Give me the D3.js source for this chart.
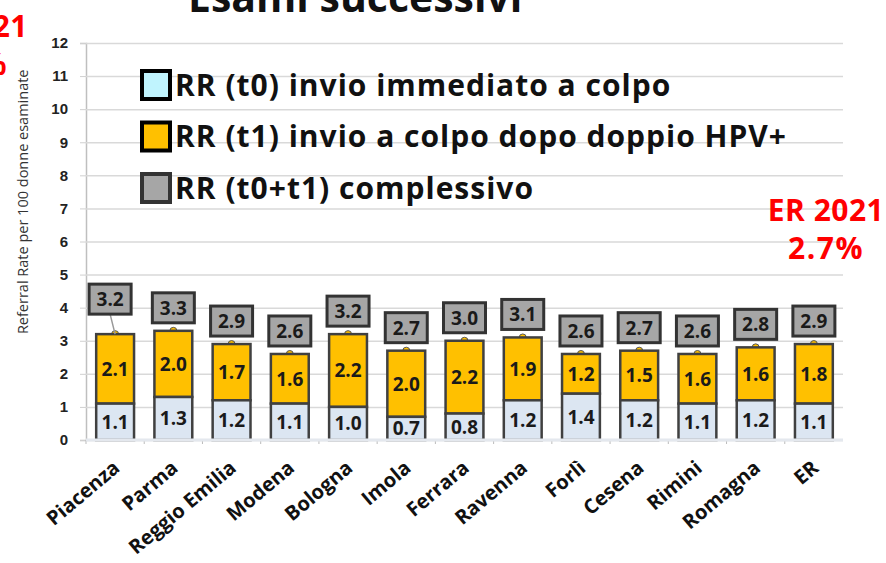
<!DOCTYPE html>
<html>
<head>
<meta charset="utf-8">
<script src="https://cdn.jsdelivr.net/npm/d3@7"></script>
<style>
  body { margin: 0; background: #fff; }
  svg { display: block; font-family: "Open Sans", "Noto Sans", sans-serif; }
</style>
</head>
<body>
<div id="wrapper"></div>
<script>
// data
const areas = ["Piacenza", "Parma", "Reggio Emilia", "Modena", "Bologna", "Imola", "Ferrara",
  "Ravenna", "Forlì", "Cesena", "Rimini", "Romagna", "ER"]
const rrT0 = [1.1, 1.3, 1.2, 1.1, 1.0, 0.7, 0.8, 1.2, 1.4, 1.2, 1.1, 1.2, 1.1]
const rrT1 = [2.1, 2.0, 1.7, 1.6, 2.2, 2.0, 2.2, 1.9, 1.2, 1.5, 1.6, 1.6, 1.8]
const rrTot = [3.2, 3.3, 2.9, 2.6, 3.2, 2.7, 3.0, 3.1, 2.6, 2.7, 2.6, 2.8, 2.9]
const yTicks = [0, 1, 2, 3, 4, 5, 6, 7, 8, 9, 10, 11, 12]
const legendLabels = [
  "RR (t0) invio immediato a colpo",
  "RR (t1) invio a colpo dopo doppio HPV+",
  "RR (t0+t1) complessivo",
]

const dataset = areas.map((a, i) => ({ area: a, t0: rrT0[i], t1: rrT1[i], tot: rrTot[i] }))

const dimensions = { width: 886, height: 563 }
const colT0 = "#dce6f2"
const colT1 = "#ffc000"
const colBox = "#a6a6a6"

const svg = d3.select("#wrapper").append("svg")
  .attr("width", dimensions.width)
  .attr("height", dimensions.height)

// scales
const xScale = d3.scaleBand()
  .domain(areas)
  .range([86, 843])
  .paddingInner(0.35)
  .paddingOuter(0.175)
const yScale = d3.scaleLinear()
  .domain([0, 12])
  .range([440, 43])

// gridlines + y axis
const yAxis = svg.append("g")
  .attr("transform", "translate(86,0)")
  .call(d3.axisLeft(yScale).tickValues(yTicks).tickSize(6).tickPadding(12).tickFormat(d3.format("d")))
yAxis.select(".domain").attr("stroke", "#bfbfbf").attr("stroke-width", 1.5)
yAxis.selectAll(".tick line").attr("stroke", "#d0d0d0")
yAxis.selectAll(".tick text")
  .attr("font-size", 15).attr("font-weight", "bold").attr("fill", "#222")
yAxis.selectAll(".tick").append("line")
  .attr("class", "grid")
  .attr("x1", 0).attr("x2", 843 - 86)
  .attr("stroke", "#d9d9d9").attr("stroke-width", 1.5)

svg.append("text")
  .attr("transform", `translate(28, ${yScale(7.2)}) rotate(-90)`)
  .attr("text-anchor", "middle")
  .attr("font-size", 14.5)
  .attr("fill", "#333")
  .text("Referral Rate per 100 donne esaminate")

// x axis baseline with small category ticks
const xAxis = svg.append("g").attr("transform", `translate(0,${yScale(0)})`)
xAxis.append("line")
  .attr("x1", 86).attr("x2", 843)
  .attr("stroke", "#d0d8e0").attr("stroke-width", 2)
xAxis.selectAll(".sep")
  .data(areas)
  .join("line")
  .attr("x1", d => xScale(d) - xScale.step() * xScale.paddingInner() / 2)
  .attr("x2", d => xScale(d) - xScale.step() * xScale.paddingInner() / 2)
  .attr("y1", 0).attr("y2", 4)
  .attr("stroke", "#bbb")

xAxis.selectAll(".xlabel")
  .data(areas)
  .join("text")
  .attr("class", "xlabel")
  .attr("transform", d => `translate(${xScale(d) + xScale.bandwidth() / 2 + 6}, 30) rotate(-40)`)
  .attr("text-anchor", "end")
  .attr("font-size", 20)
  .attr("font-weight", "bold")
  .attr("fill", "#111")
  .text(d => d)

// bars
const bars = svg.append("g")
const cx = d => xScale(d.area) + xScale.bandwidth() / 2

// little leader stubs on top of each bar
bars.selectAll(".stub")
  .data(dataset)
  .join("circle")
  .attr("cx", cx)
  .attr("cy", d => yScale(d.tot))
  .attr("r", 3.5)
  .attr("fill", colT1)
  .attr("stroke", "#555")
  .attr("stroke-width", 1)

bars.selectAll(".t1")
  .data(dataset)
  .join("rect")
  .attr("x", d => xScale(d.area))
  .attr("width", xScale.bandwidth())
  .attr("y", d => yScale(d.tot))
  .attr("height", d => yScale(d.t0) - yScale(d.tot))
  .attr("fill", colT1)
  .attr("stroke", "#404040")
  .attr("stroke-width", 2.5)

bars.selectAll(".t0")
  .data(dataset)
  .join("rect")
  .attr("x", d => xScale(d.area))
  .attr("width", xScale.bandwidth())
  .attr("y", d => yScale(d.t0))
  .attr("height", d => yScale(0) - yScale(d.t0))
  .attr("fill", colT0)
  .attr("stroke", "#404040")
  .attr("stroke-width", 2.5)

// redraw baseline over the bar bottoms
svg.append("line")
  .attr("x1", 86).attr("x2", 843)
  .attr("y1", yScale(0)).attr("y2", yScale(0))
  .attr("stroke", "#e4e8ee").attr("stroke-width", 3)

const fmt = d3.format(".1f")
bars.selectAll(".lab0")
  .data(dataset)
  .join("text")
  .attr("x", cx)
  .attr("y", d => (yScale(0) + yScale(d.t0)) / 2)
  .attr("dy", "0.36em")
  .attr("text-anchor", "middle")
  .attr("font-size", 19).attr("font-weight", "bold").attr("fill", "#1a1a1a")
  .text(d => fmt(d.t0))

bars.selectAll(".lab1")
  .data(dataset)
  .join("text")
  .attr("x", cx)
  .attr("y", d => (yScale(d.t0) + yScale(d.tot)) / 2)
  .attr("dy", "0.36em")
  .attr("text-anchor", "middle")
  .attr("font-size", 19).attr("font-weight", "bold").attr("fill", "#1a1a1a")
  .text(d => fmt(d.t1))

// total label boxes; the first one sits higher with a leader line
const boxW = 42, boxH = 30, gap = 8
const nudge = (d, i) => i === 0 ? { dx: -5, dy: -12 } : { dx: 0, dy: 0 }

const boxes = bars.selectAll(".box")
  .data(dataset)
  .join("g")
  .attr("transform", (d, i) => {
    const n = nudge(d, i)
    return `translate(${cx(d) + n.dx}, ${yScale(d.tot) - gap - boxH / 2 + n.dy})`
  })

boxes.filter((d, i) => i === 0)
  .append("line")
  .attr("x1", 0).attr("y1", boxH / 2)
  .attr("x2", 5).attr("y2", d => 12 + gap + boxH / 2)
  .attr("stroke", "#999").attr("stroke-width", 1.5)

boxes.append("rect")
  .attr("x", -boxW / 2).attr("y", -boxH / 2)
  .attr("width", boxW).attr("height", boxH)
  .attr("fill", colBox)
  .attr("stroke", "#333")
  .attr("stroke-width", 3)

boxes.append("text")
  .attr("text-anchor", "middle")
  .attr("dy", "0.36em")
  .attr("font-size", 19).attr("font-weight", "bold").attr("fill", "#1a1a1a")
  .text(d => fmt(d.tot))

// legend
const legendColors = ["#c0f4fe", colT1, colBox]
const legend = svg.append("g")
  .selectAll("g")
  .data(legendLabels)
  .join("g")
  .attr("transform", (d, i) => `translate(142, ${85 + i * 51.5})`)
legend.append("rect")
  .attr("x", 0).attr("y", -14)
  .attr("width", 28).attr("height", 28)
  .attr("fill", (d, i) => legendColors[i])
  .attr("stroke", (d, i) => i === 2 ? "#333" : "#000")
  .attr("stroke-width", 4)
legend.append("text")
  .attr("x", 33)
  .attr("dy", "0.36em")
  .attr("font-size", 30).attr("font-weight", "bold").attr("fill", "#111")
  .attr("letter-spacing", 1)
  .text(d => d)

// title (cut off at the top) and red notes
svg.append("text")
  .attr("x", 188).attr("y", 12)
  .attr("font-size", 41).attr("font-weight", "bold").attr("fill", "#111")
  .text("Esami successivi")

const redNote = (x, y, anchor, txt, spacing) => svg.append("text")
  .attr("x", x).attr("y", y)
  .attr("text-anchor", anchor)
  .attr("font-size", 30).attr("font-weight", "bold").attr("fill", "#ff0000")
  .attr("letter-spacing", spacing)
  .text(txt)

redNote(826, 221, "middle", "ER 2021", 0.5)
redNote(826, 259, "middle", "2.7%", 1.5)
redNote(28, 37, "end", "ER 2021", 0.5)
redNote(8, 75, "end", "2.7%", 1.5)
</script>
</body>
</html>
